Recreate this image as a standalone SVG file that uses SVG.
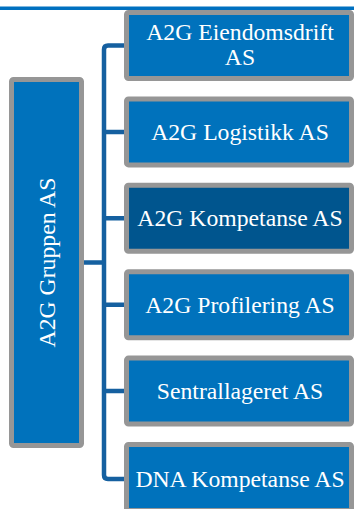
<svg xmlns="http://www.w3.org/2000/svg" width="354" height="509" viewBox="0 0 354 509">
<style>
.box{fill:#0072bc;stroke:#969696;stroke-width:5}
.dark{fill:#00558e}
.t{font-family:'Liberation Serif','Times New Roman',serif;font-size:23.7px;fill:#ffffff;text-anchor:middle}
.c{fill:none;stroke:#1560a0;stroke-width:4.5;stroke-linejoin:round}
</style>
<rect x="0" y="6.5" width="354" height="3.5" fill="#0070c0"/>
<g id="connectors">
<path class="c" d="M126 45.5 H108 Q104 45.5 104 49.5 V475 Q104 479 108 479 H126"/>
<path class="c" d="M104 131.9 H126 M104 218.3 H126 M104 304.7 H126 M104 391.1 H126 M82 262.5 H104"/>
</g>
<g id="root">
<rect class="box" x="11.5" y="79.5" width="70" height="366" rx="2"/>
<text class="t" transform="translate(54.5,262.5) rotate(-90)">A2G Gruppen AS</text>
</g>
<g id="n1">
<rect class="box" x="126.5" y="12.5" width="225" height="66" rx="2"/>
<text class="t" x="240" y="40">A2G Eiendomsdrift</text>
<text class="t" x="240" y="65">AS</text>
</g>
<g id="n2">
<rect class="box" x="126.5" y="98.9" width="225" height="66" rx="2"/>
<text class="t" x="240" y="140">A2G Logistikk AS</text>
</g>
<g id="n3">
<rect class="box dark" x="126.5" y="185.3" width="225" height="66" rx="2"/>
<text class="t" x="240" y="226.4">A2G Kompetanse AS</text>
</g>
<g id="n4">
<rect class="box" x="126.5" y="271.7" width="225" height="66" rx="2"/>
<text class="t" x="240" y="312.8">A2G Profilering AS</text>
</g>
<g id="n5">
<rect class="box" x="126.5" y="358.1" width="225" height="66" rx="2"/>
<text class="t" x="240" y="399.2">Sentrallageret AS</text>
</g>
<g id="n6">
<rect class="box" x="126.5" y="444.5" width="225" height="66" rx="2"/>
<text class="t" x="240" y="487">DNA Kompetanse AS</text>
</g>
</svg>
